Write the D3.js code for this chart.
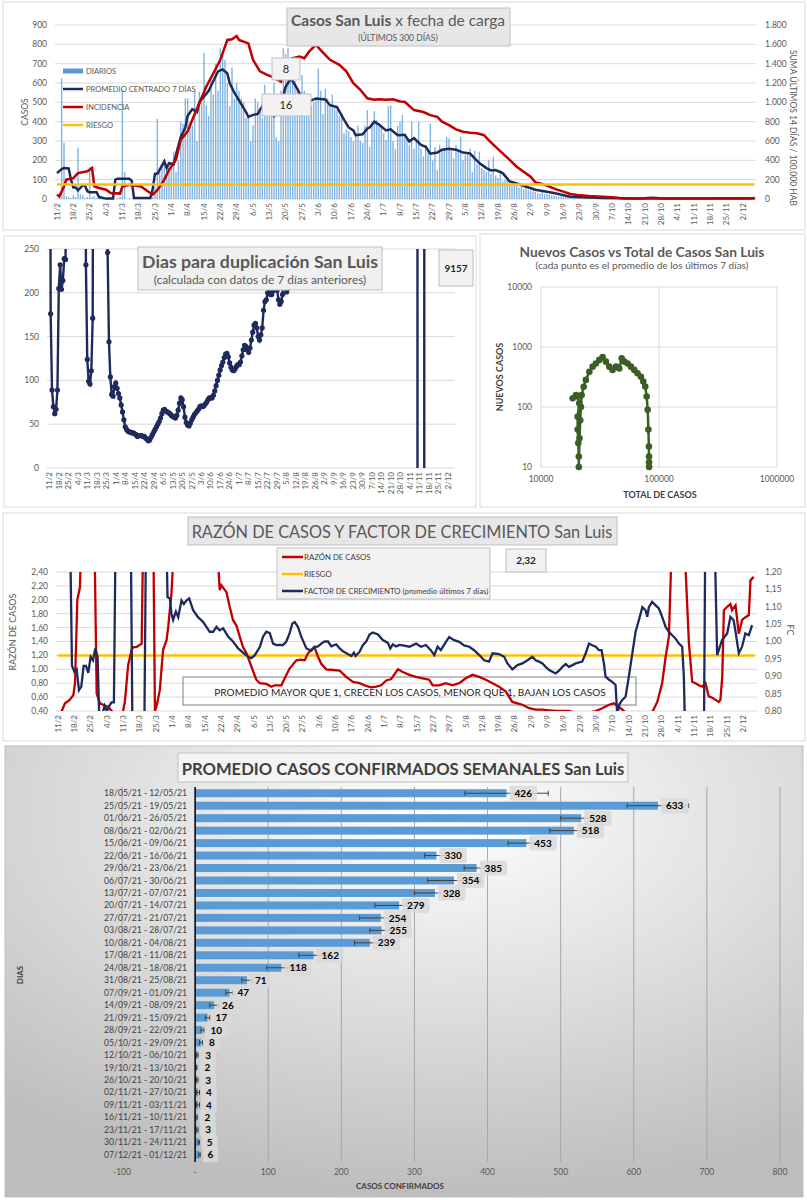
<!DOCTYPE html>
<html>
<head>
<meta charset="utf-8">
<script src="https://cdn.jsdelivr.net/npm/d3@7"></script>
<style>
body { margin: 0; background: #fff; }
svg { display: block; font-family: Lato, "Open Sans", sans-serif; }
</style>
</head>
<body>
<svg id="chart" width="807" height="1200"></svg>
<script>
// ---------- data ----------
// weekly tick labels (day 0 = 11/2/2021, one every 7 days)
const weekTicks = ["11/2","18/2","25/2","4/3","11/3","18/3","25/3","1/4","8/4","15/4","22/4","29/4","6/5","13/5","20/5","27/5","3/6","10/6","17/6","24/6","1/7","8/7","15/7","22/7","29/7","5/8","12/8","19/8","26/8","2/9","9/9","16/9","23/9","30/9","7/10","14/10","21/10","28/10","4/11","11/11","18/11","25/11","2/12"];

// daily cases, day 0 .. 299
const diarios = [
  0, 10, 625, 290, 15, 10, 5,
  20, 10, 265, 25, 20, 5, 10,
  165, 10, 15, 5, 10, 0, 0,
  0, 0, 0, 0, 0, 5, 10,
  565, 140, 0, 5, 0, 0, 0,
  0, 0, 0, 5, 5, 0, 10,
  60, 415, 150, 180, 200, 150, 160,
  190, 245, 140, 200, 400, 390, 520,
  520, 400, 380, 560, 300, 555, 500,
  755, 485, 430, 620, 540, 700, 560,
  780, 765, 720, 600, 480, 680, 520,
  600, 560, 520, 500, 420, 430, 300,
  380, 520, 500, 450, 420, 590, 480,
  440, 505, 600, 320, 300, 560, 780,
  750, 780, 620, 600, 610, 570, 500,
  640, 560, 440, 500, 480, 500, 520,
  675, 560, 440, 570, 520, 480, 540,
  480, 460, 430, 440, 340, 360, 350,
  320, 300, 340, 380, 300, 290, 380,
  460, 270, 400, 455, 410, 390, 370,
  340, 305, 480, 485, 300, 260, 380,
  400, 435, 320, 310, 280, 400, 260,
  300, 400, 260, 220, 280, 250, 390,
  200, 270, 150, 280, 250, 260, 320,
  314, 250, 210, 280, 260, 322, 200,
  230, 240, 260, 140, 250, 180, 245,
  160, 150, 140, 200, 130, 219, 120,
  110, 150, 90, 100, 98, 80, 70,
  85, 70, 60, 65, 50, 55, 48,
  45, 40, 38, 30, 28, 35, 25,
  26, 22, 18, 20, 15, 12, 14,
  16, 12, 10, 12, 9, 8, 10,
  8, 9, 6, 7, 10, 5, 8,
  6, 5, 8, 4, 3, 4, 3,
  3, 2, 4, 2, 3, 2, 2,
  1, 2, 3, 2, 1, 3, 2,
  3, 4, 2, 5, 3, 4, 3,
  5, 3, 4, 6, 4, 3, 5,
  4, 5, 3, 4, 2, 3, 2,
  2, 1, 3, 2, 2, 3, 2,
  3, 4, 2, 3, 4, 5, 4,
  5, 6, 4, 5, 6, 5, 7,
  6, 7, 5, 6, 8, 6
];

// 7-day centred average (day, cases)
const promedioDias = [0,2,3,5,6,7,8,9,11,12,13,14,17,18,21,24,25,26,31,32,33,40,41,42,43,46,47,48,50,51,53,55,56,58,60,61,63,65,67,69,71,73,74,76,78,81,82,84,86,88,91,93,96,98,100,101,103,105,106,108,111,115,117,120,123,125,127,128,131,133,134,136,138,141,143,146,149,151,153,156,158,160,163,165,168,171,174,177,179,181,184,186,188,191,194,197,205,213,220,234,250,255,260,299];
const promedioVals = [134,155,160,158,100,60,60,45,70,70,40,35,35,10,2,2,100,105,105,95,5,5,50,130,130,195,160,185,180,230,320,370,430,465,450,500,530,560,610,660,670,650,600,550,510,450,425,435,440,480,470,430,490,580,620,610,570,520,530,505,520,515,485,475,410,370,355,330,335,365,370,400,385,355,360,330,332,298,315,280,270,234,240,255,260,255,240,236,210,186,160,148,150,134,91,80,48,31,12,5,3,7,3,4];

// incidence, sum of last 14 days / 100.000 hab (right axis)
const incidenciaDias = [0,1,3,4,7,9,13,15,16,18,21,23,27,28,31,36,41,43,46,48,51,53,56,58,61,64,67,70,73,75,77,78,82,84,87,90,92,96,98,101,104,106,108,111,113,117,121,124,127,130,133,136,138,141,144,147,149,153,157,160,163,165,168,171,174,177,180,183,185,188,191,194,197,200,203,205,208,211,214,217,220,223,228,234,238,243,248,297,299];
const incidenciaVals = [44,28,130,200,216,268,286,320,130,114,96,62,56,130,148,130,44,90,200,300,406,612,700,820,992,1164,1300,1440,1646,1652,1686,1646,1610,1440,1320,1284,1266,1214,1422,1456,1474,1456,1524,1594,1540,1440,1388,1320,1198,1130,1042,1026,1032,1026,1032,1008,1006,920,900,868,850,800,764,720,696,686,680,660,610,540,472,404,334,282,230,172,156,128,100,76,52,42,32,24,18,6,4,4,10];

const riesgoIncidencia = 150;

// days to doubling (values beyond the 0..250 window run off the chart)
const duplicacionDias = [0,1,2,3,4,5,6,7,8,9,10,11,12,13,26,27,28,29,30,31,32,33,42,43,44,45,46,47,48,49,50,51,52,53,54,55,56,57,58,59,60,61,62,63,64,65,66,67,68,69,70,71,72,73,74,75,76,77,78,79,80,81,82,83,84,85,86,87,88,89,90,91,92,93,94,95,96,97,98,99,100,101,102,103,104,105,106,107,108,109,110,111,112,113,114,115,116,117,118,119,120,121,122,123,124,125,126,127,128,129,130,131,132,133,134,135,136,137,138,139,140,141,142,143,144,145,146,147,148,149,150,151,152,153,154,155,156,157,158,159,160,161,162,163,164,165,166,167,168,169,170,171,172,173,174,175,176,177,271,272,276,277,299];
const duplicacionVals = [900,176,89,70,62,67,89,205,232,204,214,239,238,900,900,232,124,99,96,111,171,900,900,246,144,104,84,82,93,97,91,85,80,72,64,55,47,44,42,41,41,40,40,39,38,36,37,37,37,36,36,34,33,31,32,35,38,41,44,47,50,53,57,62,66,67,65,64,63,62,60,59,58,57,60,66,74,80,78,70,58,52,49,48,51,55,58,61,63,65,67,70,71,70,71,73,75,78,80,80,80,83,88,94,100,106,112,117,121,126,130,131,127,120,115,112,111,113,116,118,118,121,128,135,140,139,135,132,137,146,155,163,165,160,150,146,152,160,180,190,192,200,205,198,198,202,206,210,203,192,187,190,198,300,300,201,205,9000,9000,-9000,-9000,9000,9157];

// new cases vs total cases (7-day averages)
const scatterTotal = [18550,19800,20450,21100,20450,20450,20700,20900,20900,21200,21500,21800,22100,23000,24000,25700,27400,29200,31200,33300,35500,37900,40400,43200,46000,48300,50800,54200,57800,61700,65800,70300,73600,76500,78600,80200,81300,82100,82300,82400,82500];
const scatterNuevos = [140,158,150,115,69,42,25,15,10,30,60,100,158,218,283,385,470,530,610,680,570,470,415,470,440,650,570,530,470,415,365,320,265,220,150,90,42,22,15,12,10];

// razón de casos (left axis)
const razonDias = [0,1.6,3,5,6.6,7.3,8.3,9.4,10.1,15.6,16.6,18,19.4,21.6,23,27.3,28.7,30.1,31.6,32.3,33.7,35.9,36.6,40.9,41.6,42.3,43.7,45.1,46.6,47.3,48.7,50.1,68,69.4,70.1,72.3,73.7,75.1,76.6,78,79.4,80.9,83,85.1,86.6,89.4,91.6,93,95.9,97.3,99.4,102.3,104.4,105.9,107.3,108.7,110.1,111.6,113,115.1,118,120.9,123.7,126.6,129.4,132.3,134.4,136.6,138.7,140.9,143,145.9,148,150.8,153.6,156.5,159.3,160.8,163.6,166.5,169.3,172.2,175,177.9,180.8,183.6,186.5,189.3,192.2,195,197.2,199.3,202.2,205,207.9,210.8,213.6,219.3,225,230.8,233.6,236.5,238.6,240.8,242.2,243.6,249.3,255,257.2,259.3,260.8,262.2,263.6,268.6,270.8,272.2,273.6,275,276.5,277.9,279.3,280.8,282.2,283.6,284.3,285.1,285.8,287.2,288.6,289.3,290.8,292.2,292.9,293.6,295.1,296.5,297.2,298.6];
const razonVals = [0.3,0.40,0.51,0.56,0.63,0.80,2.00,2.18,3,3,0.65,0.51,0.49,0.46,0.40,0.30,0.53,1.06,1.28,1.32,1.32,1.37,3,3,0.40,0.47,0.70,1.28,1.42,1.61,2.09,3,3,2.14,2.21,2.11,1.90,1.71,1.63,1.47,1.32,1.23,1.04,0.85,0.80,0.79,0.75,0.77,0.77,0.87,1.01,1.13,1.14,1.13,1.23,1.28,1.32,1.18,1.08,1.00,0.99,0.98,0.89,0.82,0.80,0.76,0.74,0.75,0.77,0.84,0.86,1.00,0.96,0.92,0.89,0.87,0.85,0.77,0.77,0.80,0.77,0.80,0.87,0.92,0.89,0.85,0.80,0.75,0.68,0.53,0.51,0.49,0.44,0.42,0.42,0.41,0.40,0.40,0.35,0.40,0.44,0.49,0.51,0.46,0.42,0.38,0.30,0.38,0.53,0.80,1.18,1.47,3,3,1.37,0.82,0.80,0.77,0.75,0.80,0.61,0.59,0.56,0.53,0.56,0.89,1.85,1.90,1.94,1.85,1.92,1.51,1.61,1.71,1.75,1.78,2.28,2.33];

// factor de crecimiento, 7-day average (right axis)
const fcDias = [0,5,6,7,8,9,10,11,12,13,14,15,16,17,18,19,20,21,22,23,24,25,31,32,37,38,46,47,48,48.7,49.4,50.6,51.6,53,54,55.1,56.3,58,60.1,62.3,63.7,65.1,66.6,68,69.4,70.9,73,75.1,77.3,79.4,81.6,83,84.4,86.6,88,89.4,90.9,92.3,93.7,96.6,98,99.4,100.6,101.6,103,104.4,106.6,108.7,110.1,111.6,113,114.4,115.9,117.3,119.4,120.9,122.3,124.4,125.9,127,127.7,129.4,130.9,132.3,133.7,135.1,137.3,139.4,141.6,142.6,143.7,145.1,146.6,148,150.8,153.7,155.8,157.9,160,161.5,162.9,164.3,166.5,167.9,170,172.2,174.3,176.5,178.6,180.8,182.9,185,186.5,189.3,191.5,192.9,195,197.2,199.3,201.5,203.6,205,206.5,207.9,209.3,210.8,212.2,213.6,215,216.5,217.9,219.3,220.8,222.2,225,226.5,227.9,229.3,230.8,232.2,233.3,234.3,235,236.5,237.9,239.3,240,241,242.2,243.6,245,246.5,247.9,249.3,250.8,252.2,252.9,253.6,255,256.5,257.9,259.3,260.8,262.2,263.6,265,266.5,267.9,268.6,269.3,277.2,277.9,281.5,282.9,285,287.2,288.6,290,290.8,292.2,293.6,295,296.5,297.9];
const fcVals = [1.40,1.40,0.93,0.913,0.92,0.86,0.87,0.93,0.93,0.91,0.956,0.946,0.98,0.956,0.70,0.79,0.815,0.80,0.815,0.825,0.825,1.50,1.50,0.70,0.70,1.50,1.50,1.128,1.124,1.08,1.062,1.086,1.07,1.118,1.108,1.118,1.124,1.09,1.07,1.056,1.042,1.028,1.028,1.042,1.032,1.038,1.014,1.00,0.98,0.968,0.956,0.952,0.96,0.984,1.014,1.028,1.024,0.994,0.99,0.99,1.00,1.024,1.052,1.056,1.042,1.014,0.98,0.974,0.984,0.986,0.994,1.00,1.00,0.986,0.992,0.98,0.972,0.964,0.958,0.968,0.958,0.97,0.99,1.00,1.02,1.026,1.02,1.004,0.996,0.98,0.992,0.986,0.99,0.989,0.985,0.994,0.985,0.99,0.975,0.961,0.985,0.975,0.999,1.013,1.004,0.999,0.989,0.985,0.975,0.961,0.946,0.942,0.966,0.964,0.956,0.937,0.920,0.932,0.937,0.946,0.956,0.946,0.942,0.937,0.927,0.918,0.913,0.908,0.916,0.927,0.935,0.927,0.932,0.937,0.942,0.966,0.994,0.989,0.985,0.975,0.975,0.937,0.899,0.890,0.884,0.875,0.79,0.82,0.832,0.841,0.899,0.966,1.028,1.061,1.099,1.09,1.071,1.099,1.114,1.104,1.095,1.071,1.042,1.028,1.018,1.009,0.994,0.985,0.90,0.70,0.70,1.40,1.40,0.961,1.004,1.023,1.071,1.061,1.028,0.966,0.985,1.023,1.018,1.047];

const riesgoRazon = 1.2;

// weekly averages
const semanas = ["18/05/21 - 12/05/21","25/05/21 - 19/05/21","01/06/21 - 26/05/21","08/06/21 - 02/06/21","15/06/21 - 09/06/21","22/06/21 - 16/06/21","29/06/21 - 23/06/21","06/07/21 - 30/06/21","13/07/21 - 07/07/21","20/07/21 - 14/07/21","27/07/21 - 21/07/21","03/08/21 - 28/07/21","10/08/21 - 04/08/21","17/08/21 - 11/08/21","24/08/21 - 18/08/21","31/08/21 - 25/08/21","07/09/21 - 01/09/21","14/09/21 - 08/09/21","21/09/21 - 15/09/21","28/09/21 - 22/09/21","05/10/21 - 29/09/21","12/10/21 - 06/10/21","19/10/21 - 13/10/21","26/10/21 - 20/10/21","02/11/21 - 27/10/21","09/11/21 - 03/11/21","16/11/21 - 10/11/21","23/11/21 - 17/11/21","30/11/21 - 24/11/21","07/12/21 - 01/12/21"];
const promedioSemanal = [426,633,528,518,453,330,385,354,328,279,254,255,239,162,118,71,47,26,17,10,8,3,2,3,4,4,2,3,5,6];
const errorSemanal = [57,42,28,33,25,16,17,36,28,33,29,16,21,20,20,7,5,6,3,2,2,1,0.5,1,2,2,1,1,1,1];
const semanalTicks = [-100,0,100,200,300,400,500,600,700,800];

// ---------- helpers ----------
const svg = d3.select("#chart");
const NAVY = "#1f2a5c", RED = "#c00000", GOLD = "#ffc000", BLUE = "#5b9bd5", GREEN = "#3b5e25";
const TXT = "#595959", GRID = "#d9d9d9";
const fmtMiles = d3.formatLocale({decimal: ",", thousands: ".", grouping: [3], currency: ["$", ""]}).format(",");
const fmtComa = v => d3.format(".2f")(v).replace(".", ",");

function panel(x, y, w, h) {
    svg.append("rect").attr("x", x).attr("y", y).attr("width", w).attr("height", h)
        .attr("fill", "#fff").attr("stroke", "#d9d9d9");
}

function box(x, y, w, h, fill) {
    svg.append("rect").attr("x", x).attr("y", y).attr("width", w).attr("height", h)
        .attr("fill", fill || "#ececec").attr("stroke", "#bfbfbf");
}

function label(x, y, txt, size, opts) {
    opts = opts || {};
    return svg.append("text").attr("x", x).attr("y", y).text(txt)
        .attr("font-size", size)
        .attr("font-weight", opts.bold ? "bold" : null)
        .attr("text-anchor", opts.anchor || "middle")
        .attr("fill", opts.fill || TXT);
}

// shrink/grow a text so that it spans a given width
function fit(text, width) {
    const len = text.node().getComputedTextLength();
    text.attr("font-size", parseFloat(text.attr("font-size")) * width / len);
    return text;
}

function weekAxis(g, x, y0, size) {
    g.selectAll(null).data(weekTicks).join("text")
        .attr("transform", (d, i) => `translate(${x(i * 7)},${y0}) rotate(-90)`)
        .attr("text-anchor", "end").attr("dy", "0.35em")
        .attr("font-size", size).attr("fill", TXT).text(d => d);
}

function clip(id, x, y, w, h) {
    svg.append("clipPath").attr("id", id).append("rect")
        .attr("x", x).attr("y", y).attr("width", w).attr("height", h);
}

// ---------- panel 1: casos por fecha de carga ----------
panel(3, 2, 802, 228);
{
    const x = d3.scaleLinear().domain([0, 294]).range([57, 743]);
    const y = d3.scaleLinear().domain([0, 900]).range([199, 25]);
    const yR = d3.scaleLinear().domain([0, 1800]).range([199, 25]);
    const g = svg.append("g");

    g.selectAll(".grid").data(d3.range(0, 901, 100)).join("line")
        .attr("x1", 55).attr("x2", 756).attr("y1", d => y(d)).attr("y2", d => y(d))
        .attr("stroke", GRID);
    g.selectAll(".yl").data(d3.range(0, 901, 100)).join("text")
        .attr("x", 47).attr("y", d => y(d)).attr("dy", "0.35em").attr("text-anchor", "end")
        .attr("font-size", 8.5).attr("fill", TXT).text(d => d);
    g.selectAll(".yr").data(d3.range(0, 1801, 200)).join("text")
        .attr("x", 765).attr("y", d => yR(d)).attr("dy", "0.35em")
        .attr("font-size", 8.5).attr("fill", TXT).text(d => fmtMiles(d));
    weekAxis(g, x, 203, 8);

    g.selectAll(".bar").data(diarios).join("rect")
        .attr("x", (d, i) => x(i) - 0.7).attr("width", 1.4)
        .attr("y", d => y(d)).attr("height", d => y(0) - y(d))
        .attr("fill", BLUE).attr("opacity", 0.75);

    const line = d3.line();
    g.append("path").attr("d", line(promedioDias.map((d, i) => [x(d), y(promedioVals[i])])))
        .attr("fill", "none").attr("stroke", NAVY).attr("stroke-width", 2.5);
    g.append("path").attr("d", line(incidenciaDias.map((d, i) => [x(d), yR(incidenciaVals[i])])))
        .attr("fill", "none").attr("stroke", RED).attr("stroke-width", 2.5);
    g.append("line").attr("x1", x(0)).attr("x2", x(299))
        .attr("y1", yR(riesgoIncidencia)).attr("y2", yR(riesgoIncidencia))
        .attr("stroke", GOLD).attr("stroke-width", 2.5);

    // legend
    const leg = [["DIARIOS", "bar"], ["PROMEDIO CENTRADO 7 DÍAS", NAVY], ["INCIDENCIA", RED], ["RIESGO", GOLD]];
    leg.forEach((d, i) => {
        const ly = 71 + i * 18;
        if (d[1] === "bar") {
            g.append("rect").attr("x", 63).attr("y", ly - 2.5).attr("width", 20).attr("height", 5).attr("fill", BLUE);
        } else {
            g.append("line").attr("x1", 63).attr("x2", 83).attr("y1", ly).attr("y2", ly)
                .attr("stroke", d[1]).attr("stroke-width", 2.5);
        }
        label(86, ly + 3, d[0], 7.6, {anchor: "start"});
    });

    svg.append("text").attr("transform", "translate(28,112) rotate(-90)").attr("text-anchor", "middle")
        .attr("font-size", 8.5).attr("fill", TXT).text("CASOS");
    svg.append("text").attr("transform", "translate(790,128) rotate(90)").attr("text-anchor", "middle")
        .attr("font-size", 8.5).attr("fill", TXT).text("SUMA  ÚLTIMOS 14 DÍAS / 100.000 HAB");

    box(287, 8, 223, 38, "#e7e7e7");
    const t = svg.append("text").attr("x", 398).attr("y", 26).attr("text-anchor", "middle")
        .attr("font-size", 15).attr("fill", TXT);
    t.append("tspan").attr("font-weight", "bold").text("Casos San Luis");
    t.append("tspan").text(" x fecha de carga");
    fit(t, 214);
    label(398, 41, "(ÚLTIMOS 300 DÍAS)", 8.5);

    box(272, 58, 28, 22, "#f2f2f2");
    label(286, 73, "8", 11, {fill: "#262626"});
    box(262, 94, 49, 22, "#f2f2f2");
    label(286, 109, "16", 11, {fill: "#262626"});
}

// ---------- panel 2: días para duplicación ----------
panel(4, 236, 472, 271);
{
    const x = d3.scaleLinear().domain([0, 294]).range([49.3, 448]);
    const y = d3.scaleLinear().domain([0, 250]).range([468, 249]);
    const g = svg.append("g");
    g.selectAll(".grid").data(d3.range(0, 251, 50)).join("line")
        .attr("x1", 47).attr("x2", 455).attr("y1", d => y(d)).attr("y2", d => y(d))
        .attr("stroke", GRID);
    g.selectAll(".yl").data(d3.range(0, 251, 50)).join("text")
        .attr("x", 39).attr("y", d => y(d)).attr("dy", "0.35em").attr("text-anchor", "end")
        .attr("font-size", 8.5).attr("fill", TXT).text(d => d);
    weekAxis(g, x, 472, 8);

    clip("clip2", 45, 249, 412, 219);
    const pts = duplicacionDias.map((d, i) => [x(d), y(duplicacionVals[i]), duplicacionVals[i]]);
    const lg = g.append("g").attr("clip-path", "url(#clip2)");
    lg.append("path").attr("d", d3.line()(pts.map(p => [p[0], p[1]])))
        .attr("fill", "none").attr("stroke", NAVY).attr("stroke-width", 2.4);
    lg.selectAll("circle").data(pts.filter(p => p[2] >= 0 && p[2] <= 250)).join("circle")
        .attr("cx", p => p[0]).attr("cy", p => p[1]).attr("r", 2.6).attr("fill", NAVY);

    box(138, 247, 244, 43, "#f0f0f0");
    fit(label(260, 268, "Dias para duplicación San Luis", 20, {bold: true}), 236);
    fit(label(260, 284, "(calculada con datos de 7 días anteriores)", 10), 213);

    box(439, 250, 34, 36, "#f2f2f2");
    label(456, 272, "9157", 10, {bold: true, fill: "#262626"});
}

// ---------- panel 3: nuevos casos vs total ----------
panel(480, 234, 325, 273);
{
    const x = d3.scaleLog().domain([1e4, 1e6]).range([541, 777]);
    const y = d3.scaleLog().domain([10, 1e4]).range([467, 287]);
    const g = svg.append("g");
    const yT = [10, 100, 1000, 10000], xT = [10000, 100000, 1000000];
    g.selectAll(".gy").data(yT).join("line")
        .attr("x1", 541).attr("x2", 777).attr("y1", d => y(d)).attr("y2", d => y(d)).attr("stroke", GRID);
    g.selectAll(".gx").data(xT).join("line")
        .attr("y1", 287).attr("y2", 467).attr("x1", d => x(d)).attr("x2", d => x(d)).attr("stroke", GRID);
    g.selectAll(".yl").data(yT).join("text")
        .attr("x", 532).attr("y", d => y(d)).attr("dy", "0.35em").attr("text-anchor", "end")
        .attr("font-size", 8.5).attr("fill", TXT).text(d => d);
    g.selectAll(".xl").data(xT).join("text")
        .attr("x", d => x(d)).attr("y", 482).attr("text-anchor", "middle")
        .attr("font-size", 8.5).attr("fill", TXT).text(d => d);

    const pts = scatterTotal.map((d, i) => [x(d), y(scatterNuevos[i])]);
    g.append("path").attr("d", d3.line()(pts)).attr("fill", "none").attr("stroke", GREEN).attr("stroke-width", 2.5);
    g.selectAll("circle").data(pts).join("circle")
        .attr("cx", p => p[0]).attr("cy", p => p[1]).attr("r", 3.3).attr("fill", GREEN);

    fit(label(642, 257, "Nuevos Casos vs Total de Casos San Luis", 13, {bold: true}), 245);
    fit(label(642, 269, "(cada punto es el promedio de los últimos 7 días)", 8), 213);
    svg.append("text").attr("transform", "translate(503,377) rotate(-90)").attr("text-anchor", "middle")
        .attr("font-size", 9).attr("font-weight", "bold").attr("fill", "#404040").text("NUEVOS CASOS");
    label(660, 498, "TOTAL DE CASOS", 9, {bold: true, fill: "#404040"});
}

// ---------- panel 4: razón de casos y factor de crecimiento ----------
panel(3, 513, 802, 228);
{
    const x = d3.scaleLinear().domain([0, 294]).range([58, 743]);
    const y = d3.scaleLinear().domain([0.4, 2.4]).range([711, 572]);
    const yR = d3.scaleLinear().domain([0.8, 1.2]).range([711, 572]);
    const g = svg.append("g");
    const lt = d3.range(0, 11).map(i => 0.4 + i * 0.2);
    const rt = d3.range(0, 9).map(i => 0.8 + i * 0.05);
    g.selectAll(".grid").data(lt).join("line")
        .attr("x1", 56).attr("x2", 757).attr("y1", d => y(d)).attr("y2", d => y(d)).attr("stroke", GRID);
    g.selectAll(".yl").data(lt).join("text")
        .attr("x", 48).attr("y", d => y(d)).attr("dy", "0.35em").attr("text-anchor", "end")
        .attr("font-size", 8.5).attr("fill", TXT).text(d => fmtComa(d));
    g.selectAll(".yr").data(rt).join("text")
        .attr("x", 765).attr("y", d => yR(d)).attr("dy", "0.35em")
        .attr("font-size", 8.5).attr("fill", TXT).text(d => fmtComa(d));
    weekAxis(g, x, 715, 8);

    // note box drawn under the lines
    svg.append("rect").attr("x", 183).attr("y", 677).attr("width", 453).attr("height", 28)
        .attr("fill", "none").attr("stroke", "#7f7f7f");
    fit(label(410, 696, "PROMEDIO MAYOR QUE 1, CRECEN LOS CASOS, MENOR QUE 1, BAJAN LOS CASOS", 11, {fill: "#262626"}), 392);

    clip("clip4", 55, 572, 702, 139);
    const lg = svg.append("g").attr("clip-path", "url(#clip4)");
    lg.append("line").attr("x1", 58).attr("x2", x(299)).attr("y1", y(riesgoRazon)).attr("y2", y(riesgoRazon))
        .attr("stroke", GOLD).attr("stroke-width", 2.5);
    lg.append("path").attr("d", d3.line()(razonDias.map((d, i) => [x(d), y(razonVals[i])])))
        .attr("fill", "none").attr("stroke", RED).attr("stroke-width", 2.3);
    lg.append("path").attr("d", d3.line()(fcDias.map((d, i) => [x(d), yR(fcVals[i])])))
        .attr("fill", "none").attr("stroke", NAVY).attr("stroke-width", 2.3);

    box(188, 517, 429, 28, "#e7e7e7");
    fit(label(402, 538, "RAZÓN DE CASOS Y FACTOR DE CRECIMIENTO San Luis", 18), 421);

    box(277, 548, 213, 51, "#f2f2f2");
    [["RAZÓN DE CASOS", RED], ["RIESGO", GOLD], ["FACTOR DE CRECIMIENTO (promedio últimos 7 días)", NAVY]].forEach((d, i) => {
        const ly = 557 + i * 17;
        svg.append("line").attr("x1", 282).attr("x2", 303).attr("y1", ly).attr("y2", ly)
            .attr("stroke", d[1]).attr("stroke-width", 2.5);
        label(304, ly + 3, d[0], 7.8, {anchor: "start", fill: "#404040"});
    });

    box(506, 549, 40, 23, "#f2f2f2");
    label(526, 564, "2,32", 10, {bold: true, fill: "#262626"});

    svg.append("text").attr("transform", "translate(16,632) rotate(-90)").attr("text-anchor", "middle")
        .attr("font-size", 9).attr("fill", TXT).text("RAZÓN DE CASOS");
    svg.append("text").attr("transform", "translate(787,630) rotate(90)").attr("text-anchor", "middle")
        .attr("font-size", 9).attr("fill", TXT).text("FC");
}

// ---------- panel 5: promedio casos confirmados semanales ----------
{
    const defs = svg.append("defs");
    const grad = defs.append("radialGradient").attr("id", "bg5")
        .attr("cx", "0.55").attr("cy", "0.15").attr("r", "0.85");
    grad.append("stop").attr("offset", "0").attr("stop-color", "#ffffff");
    grad.append("stop").attr("offset", "1").attr("stop-color", "#bdbdbd");
    svg.append("rect").attr("x", 5).attr("y", 746).attr("width", 798).attr("height", 451)
        .attr("fill", "url(#bg5)").attr("stroke", "#bfbfbf");

    const x = d3.scaleLinear().domain([-100, 800]).range([122, 780]);
    const y = d3.scaleBand().domain(semanas).range([787, 1161]).paddingInner(0.36).paddingOuter(0.18);
    const g = svg.append("g");

    g.selectAll(".grid").data(semanalTicks.filter(d => d !== 0)).join("line")
        .attr("x1", d => x(d)).attr("x2", d => x(d)).attr("y1", 787).attr("y2", 1162)
        .attr("stroke", "#a6a6a6").attr("stroke-width", 1);
    g.selectAll(".xl").data(semanalTicks).join("text")
        .attr("x", d => x(d)).attr("y", 1175).attr("text-anchor", "middle")
        .attr("font-size", 8.5).attr("fill", TXT).text(d => d === 0 ? "-" : d);

    g.selectAll(".cat").data(semanas).join("text")
        .attr("x", 187).attr("y", d => y(d) + y.bandwidth() / 2).attr("dy", "0.35em")
        .attr("text-anchor", "end").attr("font-size", 8.6).attr("fill", "#404040").text(d => d);

    g.selectAll(".bar").data(promedioSemanal).join("rect")
        .attr("x", x(0)).attr("y", (d, i) => y(semanas[i]))
        .attr("width", d => x(d) - x(0)).attr("height", y.bandwidth())
        .attr("fill", BLUE);

    // error bars
    promedioSemanal.forEach((v, i) => {
        const cy = y(semanas[i]) + y.bandwidth() / 2;
        const e = errorSemanal[i];
        g.append("line").attr("x1", x(v - e)).attr("x2", x(v + e)).attr("y1", cy).attr("y2", cy)
            .attr("stroke", "#404040").attr("stroke-width", 1);
        [v - e, v + e].forEach(c => g.append("line").attr("x1", x(c)).attr("x2", x(c))
            .attr("y1", cy - 2.5).attr("y2", cy + 2.5).attr("stroke", "#404040").attr("stroke-width", 1));
    });

    // data labels
    promedioSemanal.forEach((v, i) => {
        const cy = y(semanas[i]) + y.bandwidth() / 2;
        const bx = x(v) + 3;
        const t = g.append("text").attr("x", bx + 5).attr("y", cy).attr("dy", "0.36em")
            .attr("font-size", 10).attr("font-weight", "bold").attr("fill", "#000").text(v);
        const w = t.node().getComputedTextLength() + 10;
        g.insert("rect", () => t.node()).attr("x", bx).attr("y", cy - 7.5).attr("width", w).attr("height", 15)
            .attr("rx", 2).attr("fill", "#d9d9d9").attr("opacity", 0.85);
    });

    g.append("line").attr("x1", x(0)).attr("x2", x(0)).attr("y1", 787).attr("y2", 1162)
        .attr("stroke", "#000").attr("stroke-width", 1.5);

    box(178, 753, 450, 29, "#f4f4f4");
    fit(label(403, 775, "PROMEDIO CASOS CONFIRMADOS SEMANALES San Luis", 18, {bold: true, fill: "#404040"}), 443);
    label(400, 1189, "CASOS CONFIRMADOS", 8, {bold: true, fill: "#404040"});
    svg.append("text").attr("transform", "translate(23,975) rotate(-90)").attr("text-anchor", "middle")
        .attr("font-size", 8).attr("font-weight", "bold").attr("fill", "#404040").text("DIAS");
}
</script>
</body>
</html>
